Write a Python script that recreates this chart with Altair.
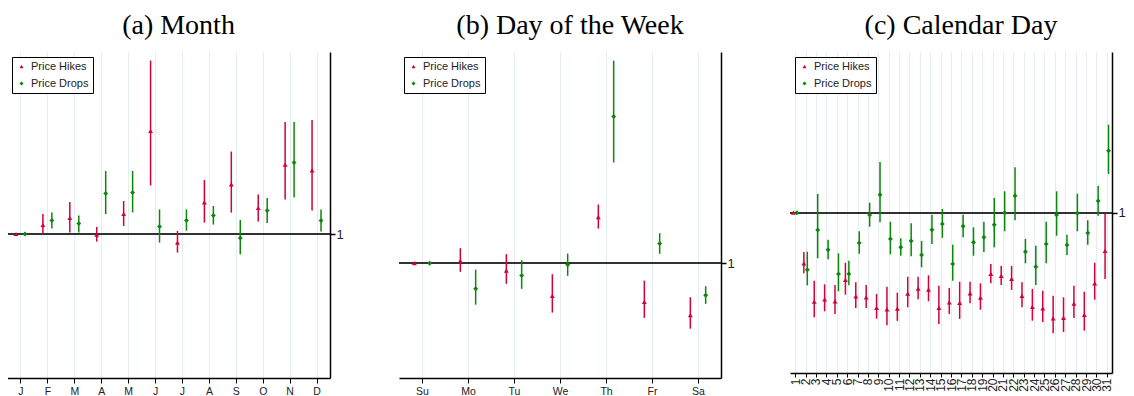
import altair as alt
import pandas as pd

# ---------------- data ----------------
month_labels = ["J", "F", "M", "A", "M", "J", "J", "A", "S", "O", "N", "D"]
month_hike = [1.0, 1.045, 1.08, 0.997, 1.10, 1.515, 0.957, 1.158, 1.248, 1.13, 1.347, 1.318]
month_hike_lo = [1.0, 1.0, 1.007, 0.962, 1.04, 1.243, 0.907, 1.057, 1.107, 1.063, 1.172, 1.118]
month_hike_hi = [1.0, 1.10, 1.16, 1.035, 1.165, 1.867, 1.015, 1.27, 1.412, 1.198, 1.56, 1.57]
month_drop = [1.0, 1.068, 1.052, 1.203, 1.207, 1.037, 1.068, 1.093, 0.98, 1.117, 1.357, 1.067]
month_drop_lo = [1.0, 1.027, 1.007, 1.10, 1.108, 0.957, 1.017, 1.047, 0.898, 1.055, 1.182, 1.012]
month_drop_hi = [1.0, 1.107, 1.093, 1.315, 1.315, 1.123, 1.123, 1.14, 1.07, 1.18, 1.56, 1.123]

dow_labels = ["Su", "Mo", "Tu", "We", "Th", "Fr", "Sa"]
dow_hike = [1.0, 1.012, 0.963, 0.837, 1.23, 0.807, 0.74]
dow_hike_lo = [1.0, 0.957, 0.897, 0.753, 1.173, 0.727, 0.673]
dow_hike_hi = [1.0, 1.075, 1.045, 0.945, 1.293, 0.913, 0.83]
dow_drop = [1.0, 0.872, 0.938, 0.992, 1.733, 1.098, 0.84]
dow_drop_lo = [1.0, 0.793, 0.872, 0.937, 1.503, 1.047, 0.797]
dow_drop_hi = [1.0, 0.968, 1.015, 1.048, 2.012, 1.15, 0.885]

day_labels = [str(d) for d in range(1, 32)]
day_hike = [1.0, 0.747, 0.555, 0.567, 0.557, 0.664, 0.582, 0.577, 0.524, 0.517, 0.52,
            0.595, 0.62, 0.615, 0.524, 0.552, 0.549, 0.597, 0.575, 0.694, 0.684, 0.669,
            0.584, 0.529, 0.522, 0.472, 0.474, 0.545, 0.489, 0.647, 0.809]
day_hike_lo = [1.0, 0.697, 0.477, 0.507, 0.494, 0.59, 0.524, 0.524, 0.47, 0.437, 0.459,
               0.527, 0.567, 0.557, 0.444, 0.494, 0.469, 0.547, 0.515, 0.647, 0.639, 0.614,
               0.527, 0.46, 0.454, 0.397, 0.404, 0.474, 0.41, 0.565, 0.669]
day_hike_hi = [1.0, 0.804, 0.66, 0.642, 0.639, 0.75, 0.652, 0.639, 0.594, 0.63, 0.60,
               0.68, 0.68, 0.687, 0.635, 0.624, 0.655, 0.655, 0.647, 0.744, 0.734, 0.734,
               0.652, 0.619, 0.61, 0.585, 0.577, 0.635, 0.605, 0.75, 0.995]
day_drop = [1.0, 0.715, 0.914, 0.815, 0.694, 0.694, 0.849, 0.989, 1.09, 0.869, 0.827,
            0.859, 0.789, 0.915, 0.944, 0.744, 0.932, 0.852, 0.877, 0.94, 1.0, 1.085,
            0.805, 0.73, 0.844, 0.989, 0.839, 0.997, 0.899, 1.059, 1.31]
day_drop_lo = [1.0, 0.637, 0.772, 0.767, 0.607, 0.637, 0.795, 0.93, 0.952, 0.792, 0.785,
               0.782, 0.727, 0.844, 0.874, 0.66, 0.877, 0.785, 0.804, 0.827, 0.907, 0.962,
               0.747, 0.639, 0.747, 0.885, 0.789, 0.907, 0.84, 0.985, 1.194]
day_drop_hi = [1.0, 0.805, 1.094, 0.865, 0.797, 0.76, 0.907, 1.05, 1.254, 0.955, 0.872,
               0.947, 0.859, 0.99, 1.019, 0.84, 0.99, 0.927, 0.955, 1.074, 1.107, 1.227,
               0.869, 0.835, 0.955, 1.107, 0.89, 1.095, 0.962, 1.135, 1.44]

series_names = ["Price Hikes", "Price Drops"]
series_colors = ["#d2003c", "#0a880a"]
series_shapes = ["triangle-up", "diamond"]


def panel(title, labels, hv, hl, hh, dv, dl, dh, ydom, width, height,
          label_angle=0, label_size=10.5, tick_size=5, label_pad=3):
    n = len(labels)
    rows = []
    for i in range(n):
        rows.append(dict(pos=i + 1, kind=series_names[0], value=hv[i], lo=hl[i], hi=hh[i]))
        rows.append(dict(pos=i + 1, kind=series_names[1], value=dv[i], lo=dl[i], hi=dh[i]))
    df = pd.DataFrame(rows)

    label_js = "[" + ",".join('"%s"' % s for s in labels) + "][datum.value - 1]"
    extra = {"labelAlign": "right", "labelBaseline": "middle"} if label_angle else {}
    xaxis = alt.Axis(
        values=list(range(1, n + 1)), labelExpr=label_js, title=None,
        grid=True, gridColor="#e4ecef", gridWidth=1,
        domainColor="black", domainWidth=1.5, tickColor="black", tickSize=tick_size,
        labelFont="Liberation Sans", labelFontSize=label_size, labelColor="#222",
        labelAngle=label_angle, labelPadding=label_pad, labelOverlap=False, **extra
    )
    x = alt.X("xp:Q", scale=alt.Scale(domain=[0.5, n + 0.5], nice=False, zero=False), axis=xaxis)
    yscale = alt.Scale(domain=ydom, nice=False, zero=False)
    yaxis = alt.Axis(
        orient="right", values=[1], title=None, grid=False,
        domainColor="black", domainWidth=1.5, tickColor="black", tickSize=5, tickWidth=1.5,
        labelFont="Liberation Sans", labelFontSize=13, labelColor="#222", labelPadding=1,
    )
    color = alt.Color("kind:N", scale=alt.Scale(domain=series_names, range=series_colors),
                      legend=alt.Legend(
                          title=None, orient="top-left", offset=5,
                          strokeColor="black", fillColor="white", padding=4,
                          labelFont="Liberation Sans", labelFontSize=11, labelColor="#222",
                          symbolSize=16, rowPadding=5, labelOffset=4,
                          symbolStrokeWidth=0,
                      ))
    shape = alt.Shape("kind:N", scale=alt.Scale(domain=series_names, range=series_shapes),
                      legend=alt.Legend(title=None))

    base = alt.Chart(df).transform_calculate(
        xp="datum.pos + (datum.kind === 'Price Hikes' ? -1/6 : 1/6)"
    )
    bars = base.mark_rule(strokeWidth=1.5).encode(
        x=x, y=alt.Y("lo:Q", scale=yscale, axis=yaxis), y2="hi:Q", color=color
    )
    ref = alt.Chart(df).mark_rule(color="#333333", strokeWidth=1.6).encode(
        y=alt.Y(datum=1, type="quantitative", scale=yscale, axis=yaxis)
    )
    pts = base.mark_point(filled=True, size=24, opacity=1).encode(
        x=x, y=alt.Y("value:Q", scale=yscale, axis=yaxis), color=color, shape=shape
    )
    return alt.layer(ref, bars, pts).properties(
        width=width, height=height,
        title=alt.TitleParams(text=title, font="Liberation Serif", fontSize=28,
                              fontWeight="normal", color="black", anchor="middle",
                              dx=10, offset=12),
    )


pa = panel("(a) Month", month_labels, month_hike, month_hike_lo, month_hike_hi,
           month_drop, month_drop_lo, month_drop_hi, [0.28, 1.91], 323, 326)
pb = panel("(b) Day of the Week", dow_labels, dow_hike, dow_hike_lo, dow_hike_hi,
           dow_drop, dow_drop_lo, dow_drop_hi, [0.4265, 2.055], 322, 326)
pc = panel("(c) Calendar Day", day_labels, day_hike, day_hike_lo, day_hike_hi,
           day_drop, day_drop_lo, day_drop_hi, [0.1985, 1.8035], 322, 321,
           label_angle=270, label_size=12, tick_size=4, label_pad=1)

chart = alt.hconcat(pa, pb, pc, spacing=69, bounds="flush").resolve_legend(
    color="independent", shape="independent"
).configure_view(
    stroke=None
).properties(padding={"left": -2, "top": 4, "right": 0, "bottom": 0})

chart.save("out.html", embed_options={"renderer": "svg", "actions": False})
